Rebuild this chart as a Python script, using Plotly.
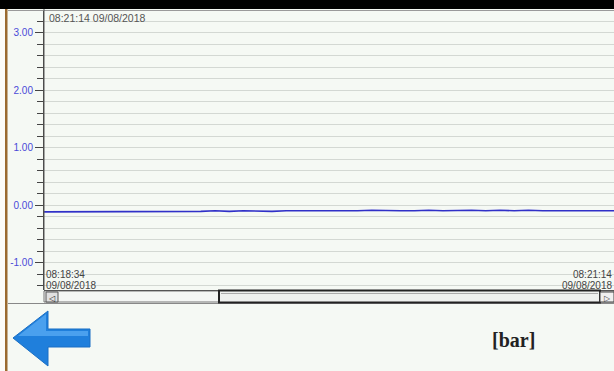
import plotly.graph_objects as go
import pandas as pd

W, H = 614, 371

# ---- data ----
start_time = "2018-08-09 08:18:34"
end_time = "2018-08-09 08:21:14"
pressure = [-0.12, -0.12, -0.11, -0.12, -0.11, -0.12, -0.11, -0.11, -0.11, -0.11,
            -0.11, -0.11, -0.10, -0.11, -0.10, -0.11, -0.11, -0.10, -0.10, -0.11,
            -0.10, -0.10, -0.10, -0.09, -0.10, -0.10, -0.10, -0.09, -0.10, -0.09,
            -0.09, -0.10, -0.09, -0.10, -0.09, -0.10, -0.10, -0.09, -0.10, -0.10, -0.10]
y_tickvals = [-1, 0, 1, 2, 3]
y_ticktext = ["-1.00", "0.00", "1.00", "2.00", "3.00"]
header_text = "08:21:14 09/08/2018"
x_start_time = "08:18:34"
x_start_date = "09/08/2018"
x_end_time = "08:21:14"
x_end_date = "09/08/2018"
unit_label = "[bar]"

times = pd.date_range(start_time, end_time, periods=len(pressure))


def px(x):
    return x / W


def py(y):
    return 1 - y / H


BG = "#f5f9f4"

fig = go.Figure()
fig.add_trace(go.Scatter(x=times, y=pressure, mode="lines",
                         line=dict(color="#3030c8", width=1.6),
                         hoverinfo="skip", showlegend=False))

shapes = []
# top black band
shapes.append(dict(type="rect", xref="paper", yref="paper", x0=0, x1=1,
                   y0=py(9), y1=1, fillcolor="#000", line_width=0, layer="above"))
# left white strip + brown rail
shapes.append(dict(type="rect", xref="paper", yref="paper", x0=0, x1=px(5),
                   y0=0, y1=py(9), fillcolor="#fbfbf8", line_width=0, layer="above"))
shapes.append(dict(type="rect", xref="paper", yref="paper", x0=px(5), x1=px(7.5),
                   y0=0, y1=py(9), fillcolor="#9a6a30", line_width=0, layer="above"))
# panel top border
shapes.append(dict(type="line", xref="paper", yref="paper", x0=px(8), x1=1,
                   y0=py(10.5), y1=py(10.5), line=dict(color="#9a9a9a", width=1), layer="above"))
# panel bottom border
shapes.append(dict(type="line", xref="paper", yref="paper", x0=px(8), x1=1,
                   y0=py(303.5), y1=py(303.5), line=dict(color="#888", width=1), layer="above"))
# axis bottom line
shapes.append(dict(type="line", xref="paper", yref="paper", x0=px(44), x1=1,
                   y0=py(290.5), y1=py(290.5), line=dict(color="#333", width=1.2), layer="above"))
# left axis extension to top
shapes.append(dict(type="line", xref="paper", yref="paper", x0=px(44), x1=px(44),
                   y0=py(290), y1=py(9), line=dict(color="#555", width=1), layer="above"))
# scrollbar track
shapes.append(dict(type="rect", xref="paper", yref="paper", x0=px(44), x1=px(614),
                   y0=py(302), y1=py(291), fillcolor="#f4f6f4",
                   line=dict(color="#777", width=1), layer="above"))
# left button
shapes.append(dict(type="rect", xref="paper", yref="paper", x0=px(46), x1=px(58),
                   y0=py(302), y1=py(292), fillcolor="#e0e0e0",
                   line=dict(color="#555", width=1), layer="above"))
# thumb
shapes.append(dict(type="rect", xref="paper", yref="paper", x0=px(219), x1=px(600),
                   y0=py(302.5), y1=py(290.5), fillcolor="#eef0ee",
                   line=dict(color="#222", width=2), layer="above"))
shapes.append(dict(type="line", xref="paper", yref="paper", x0=px(221), x1=px(598),
                   y0=py(293.5), y1=py(293.5), line=dict(color="#aaa", width=1), layer="above"))
# right button
shapes.append(dict(type="rect", xref="paper", yref="paper", x0=px(600), x1=px(614),
                   y0=py(302), y1=py(292), fillcolor="#f0f0f0",
                   line=dict(color="#444", width=1), layer="above"))


# blue back arrow
def pth(pts):
    return "M " + " L ".join(f"{px(x):.5f},{py(y):.5f}" for x, y in pts) + " Z"


arrow = [(13, 338), (48, 311), (48, 329), (90, 329), (90, 347), (48, 347), (48, 366)]
shapes.append(dict(type="path", xref="paper", yref="paper", path=pth(arrow),
                   fillcolor="#1f7fdc", line=dict(color="#1a6fc4", width=1), layer="above"))
arrow_hl = [(18, 336), (46, 314), (46, 331), (88, 331), (88, 336)]
shapes.append(dict(type="path", xref="paper", yref="paper", path=pth(arrow_hl),
                   fillcolor="#4aa0ee", line_width=0, layer="above"))

lbl_font = dict(family="Liberation Sans", size=10, color="#444")
annotations = [
    dict(text=header_text, xref="paper", yref="paper", x=px(47), y=py(18),
         xanchor="left", yanchor="middle", showarrow=False,
         font=dict(family="Liberation Sans", size=10.5, color="#555")),
    dict(text=x_start_time, xref="x", yref="paper", x=times[0], y=py(274.5),
         xanchor="left", yanchor="middle", showarrow=False, font=lbl_font),
    dict(text=x_start_date, xref="x", yref="paper", x=times[0], y=py(285),
         xanchor="left", yanchor="middle", showarrow=False, font=lbl_font),
    dict(text=x_end_time, xref="x", yref="paper", x=times[-1], y=py(274.5),
         xanchor="right", yanchor="middle", showarrow=False, font=lbl_font),
    dict(text=x_end_date, xref="x", yref="paper", x=times[-1], y=py(285),
         xanchor="right", yanchor="middle", showarrow=False, font=lbl_font),
    dict(text="◁", xref="paper", yref="paper", x=px(52), y=py(297),
         xanchor="center", yanchor="middle", showarrow=False,
         font=dict(size=8, color="#222")),
    dict(text="▷", xref="paper", yref="paper", x=px(607), y=py(297),
         xanchor="center", yanchor="middle", showarrow=False,
         font=dict(size=8, color="#444")),
    dict(text="<b>" + unit_label + "</b>", xref="paper", yref="paper", x=px(513), y=py(340),
         xanchor="center", yanchor="middle", showarrow=False,
         font=dict(family="Liberation Serif", size=20, color="#222")),
]

fig.update_layout(
    width=W, height=H, autosize=False,
    margin=dict(l=0, r=0, t=0, b=0),
    paper_bgcolor=BG, plot_bgcolor=BG,
    shapes=shapes, annotations=annotations,
    xaxis=dict(domain=[px(44), 1], range=[times[0], times[-1]],
               showticklabels=False, showgrid=False, zeroline=False,
               ticks="", showline=False, fixedrange=True),
    yaxis=dict(domain=[py(290), py(11)], range=[-1.478, 3.374],
               tickvals=y_tickvals, ticktext=y_ticktext,
               ticks="outside", ticklen=8, tickcolor="#444", tickwidth=1,
               tickfont=dict(family="Liberation Sans", size=10, color="#4a4ad8"),
               showgrid=True, gridcolor="#d3d8d3", gridwidth=1,
               zeroline=False, showline=True, linecolor="#444", linewidth=1,
               minor=dict(dtick=0.2, ticks="outside", ticklen=6, tickcolor="#444",
                          showgrid=True, gridcolor="#d3d8d3", gridwidth=1),
               fixedrange=True),
    showlegend=False,
)

fig.write_html("out.html", config={"displayModeBar": False},
               post_script="document.body.style.margin='0';document.body.style.overflow='hidden';")
